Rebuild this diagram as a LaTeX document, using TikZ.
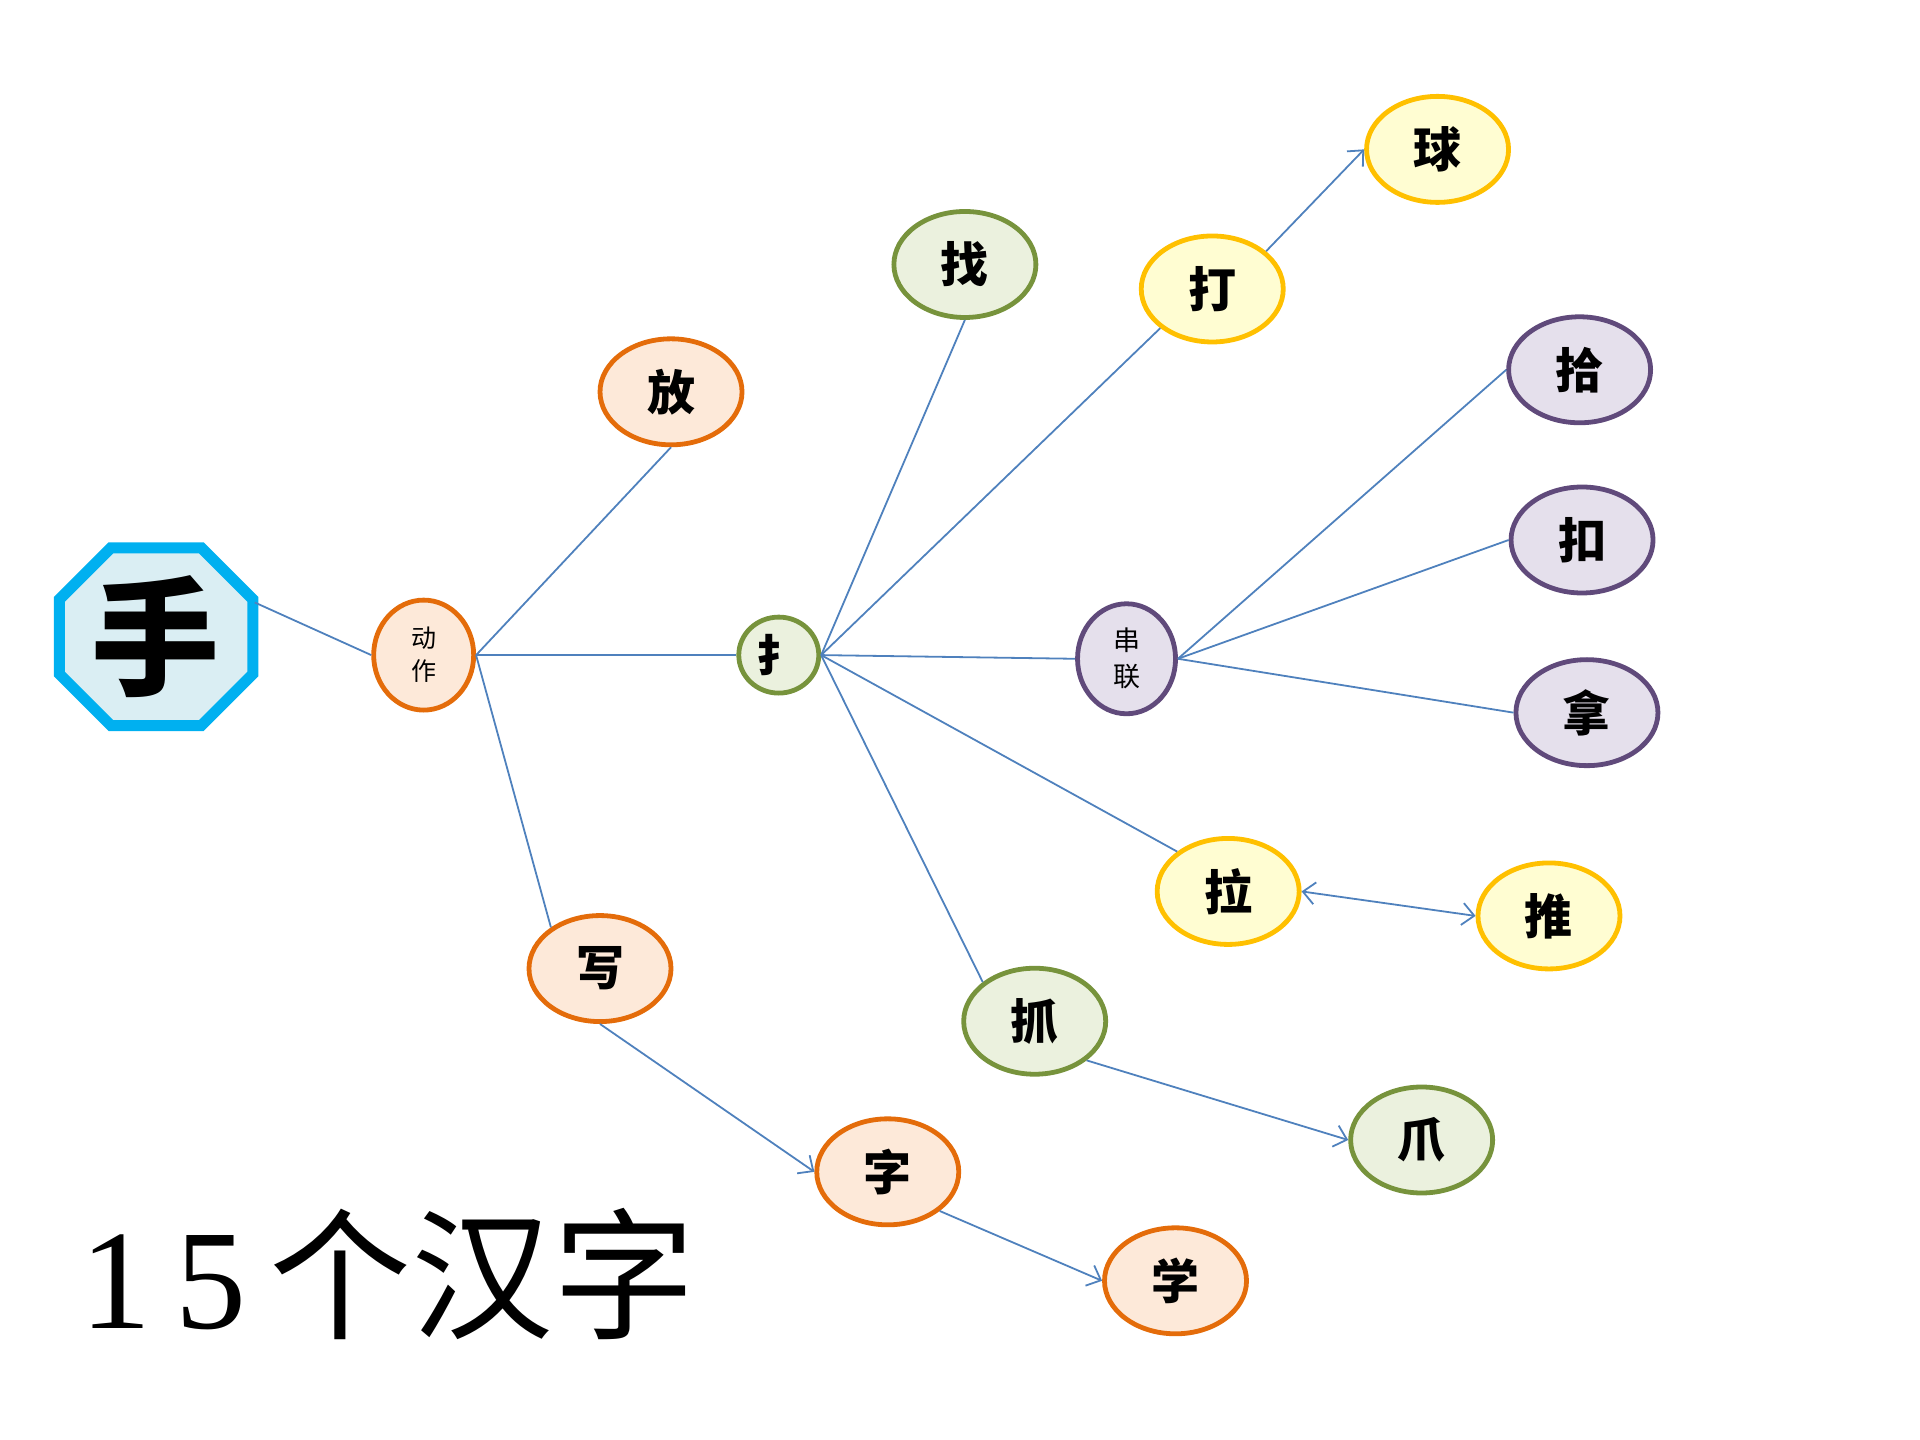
\documentclass[tikz,border=0pt]{standalone}
\usepackage{fontspec}
\setmainfont{Liberation Serif}
\newfontfamily\kai{Noto Sans CJK SC}
\newfontfamily\song{Noto Sans CJK SC}
\usetikzlibrary{shapes.geometric,arrows.meta}
\definecolor{ornD}{HTML}{E46C0A}
\definecolor{ornL}{HTML}{FDE9D9}
\definecolor{grnD}{HTML}{77933C}
\definecolor{grnL}{HTML}{EBF1DE}
\definecolor{ylwD}{HTML}{FFC000}
\definecolor{ylwL}{HTML}{FFFDD2}
\definecolor{prpD}{HTML}{604A7B}
\definecolor{prpL}{HTML}{E5E0EC}
\definecolor{octD}{HTML}{00B0F0}
\definecolor{octL}{HTML}{DAEEF3}
\definecolor{lnk}{HTML}{4F81BD}
\begin{document}
\begin{tikzpicture}[x=0.6122pt,y=-0.6122pt,
  base/.style={ellipse,line width=2.4pt,inner sep=0pt,minimum width=71pt,minimum height=53pt,
    font=\kai\bfseries\fontsize{24}{24}\selectfont},
  orn/.style={base,draw=ornD,fill=ornL},
  grn/.style={base,draw=grnD,fill=grnL},
  ylw/.style={base,draw=ylwD,fill=ylwL},
  prp/.style={base,draw=prpD,fill=prpL},
  small/.style={minimum width=50pt,minimum height=55pt,align=center},
  link/.style={draw=lnk,line width=0.9pt},
  arr/.style={link,-{Straight Barb[length=6pt,width=11pt]}},
  arrb/.style={link,{Straight Barb[length=6pt,width=11pt]}-{Straight Barb[length=6pt,width=11pt]}}
]
\useasboundingbox (0,0) rectangle (1568,1176);
% octagon
\filldraw[draw=octD,fill=octL,line width=5.5pt,line join=miter]
  (90.5,447.5) -- (164.5,447.5) -- (206.5,489.5) -- (206.5,550.5) -- (164.5,592.5)
  -- (90.5,592.5) -- (48.5,550.5) -- (48.5,489.5) -- cycle;
\node[font=\kai\bfseries\fontsize{64}{64}\selectfont,inner sep=0pt] (shou) at (127,520) {手};
\coordinate (shouR) at (208,492);
% nodes
\node[orn,small,font=\kai\fontsize{12.5}{16.5}\selectfont] (dz) at (346,535) {动\\作};
\node[orn] (fang) at (548,320) {放};
\node[orn] (xie) at (490,791) {写};
\node[orn] (zi) at (725,957) {字};
\node[orn] (xue) at (960,1046) {学};
\node[grn,minimum width=40pt,minimum height=38pt,font=\kai\bfseries\fontsize{22}{22}\selectfont] (sh) at (636,535) {扌};
\node[grn] (zhao) at (788,216) {找};
\node[grn] (zhua) at (845,834) {抓};
\node[grn] (zhao2) at (1161,931) {爪};
\node[ylw] (da) at (990,236) {打};
\node[ylw] (qiu) at (1174,122) {球};
\node[ylw] (la) at (1003,728) {拉};
\node[ylw] (tui) at (1265,748) {推};
\node[prp,small,minimum width=49pt,font=\kai\fontsize{13.5}{18}\selectfont] (cl) at (920,538) {串\\联};
\node[prp] (shi) at (1290,302) {拾};
\node[prp] (kou) at (1292,441) {扣};
\node[prp] (na) at (1296,582) {拿};
% title
\node[inner sep=0pt,font=\fontsize{71}{71}\selectfont] (title) at (317,1040) {1\,5\,\song 个汉字};
% connectors
\draw[link] (shouR) -- (dz.west);
\draw[link] (dz.east) -- (fang.south);
\draw[link] (dz.east) -- (sh.west);
\draw[link] (dz.east) -- (xie.140);
\draw[link] (sh.east) -- (zhao.south);
\draw[link] (sh.east) -- (da.217);
\draw[link] (sh.east) -- (cl.west);
\draw[link] (sh.east) -- (la.142);
\draw[link] (sh.east) -- (zhua.143);
\draw[arr] (da.35) -- (qiu.west);
\draw[link] (cl.east) -- (shi.west);
\draw[link] (cl.east) -- (kou.west);
\draw[link] (cl.east) -- (na.west);
\draw[arrb] (la.east) -- (tui.west);
\draw[arr] (xie.south) -- (zi.west);
\draw[arr] (zi.-37) -- (xue.west);
\draw[arr] (zhua.-37) -- (zhao2.west);
\end{tikzpicture}
\end{document}
